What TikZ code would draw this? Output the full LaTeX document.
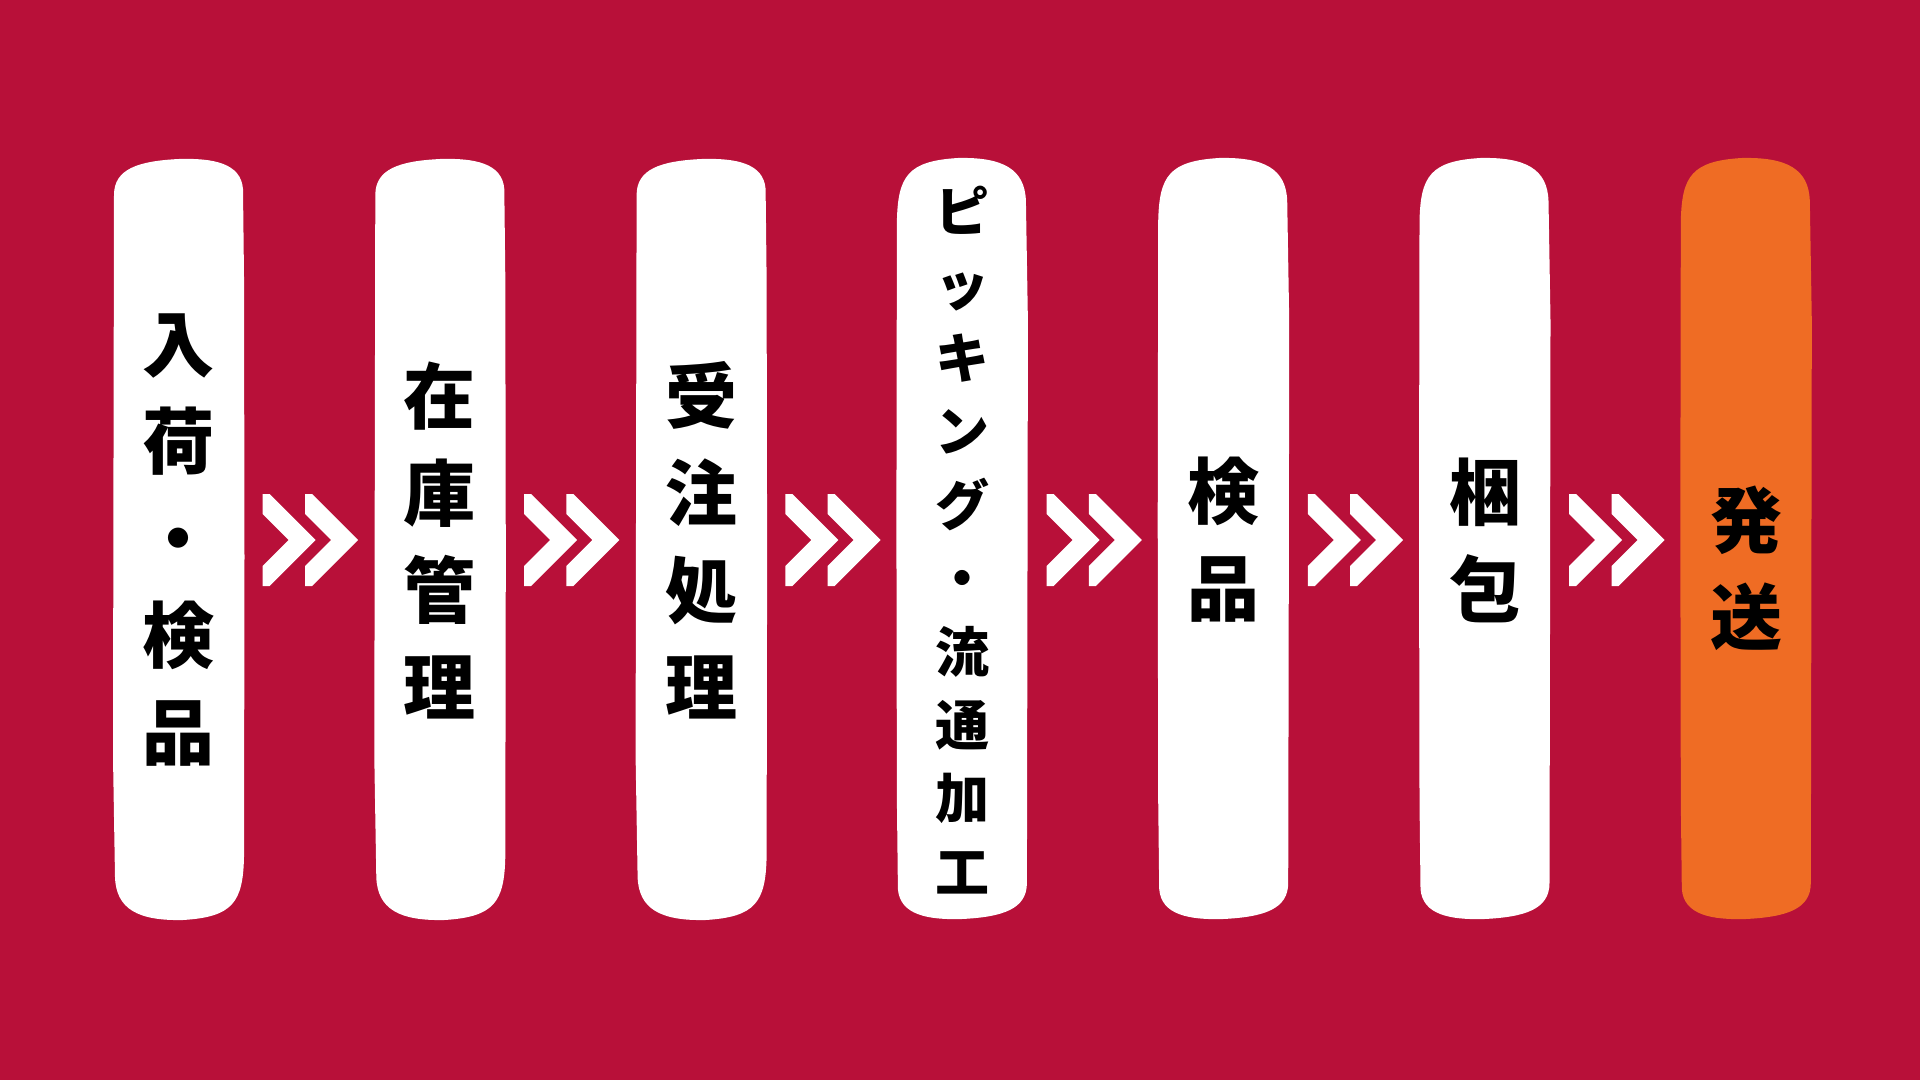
\documentclass[tikz,border=0pt]{standalone}
\usepackage{fontspec}
\newfontfamily\jpfont{Noto Sans CJK JP Black}
\definecolor{bgred}{HTML}{B81039}
\definecolor{shiporange}{HTML}{EF6C24}
\tikzset{
  pics/card/.style={code={
    \fill[#1] (1,38) .. controls (1,12) and (25,4) .. (66,2)
      .. controls (100,1) and (128,6) .. (130,32)
      -- (131,120) -- (131.5,400) -- (131,700)
      .. controls (130,745) and (120,760) .. (70,763)
      .. controls (25,764) and (3,752) .. (2,720)
      -- (0,600) -- (0.5,300) -- cycle;
  }},
  pics/chevrons/.style={code={
    \foreach \dx in {0,42.3}
      \fill[white] (\dx,0) -- (\dx+7,0) -- (\dx+53,46) -- (\dx+7,92) -- (\dx,92)
        -- (\dx,72) -- (\dx+26,46) -- (\dx,20) -- cycle;
  }},
  steptext/.style={font=\jpfont\fontsize{36}{48.5}\selectfont, align=center, text=black, inner sep=0pt},
  smalltext/.style={font=\jpfont\fontsize{27}{36.7}\selectfont, align=center, text=black, inner sep=0pt}
}
\begin{document}
\begin{tikzpicture}[x=0.5pt,y=-0.5pt]
\fill[bgred] (0,0) rectangle (1920,1080);
\useasboundingbox (0,0) rectangle (1920,1080);
% cards
\foreach \i in {0,1,2}
  \pic at (113+261.3*\i,157) {card=white};
\foreach \i in {3,4,5}
  \pic[rotate=180] at (113+261.3*\i+131,921) {card=white};
\pic[rotate=180] at (113+261.3*6+131,921) {card=shiporange};
% arrows between cards
\foreach \i in {0,...,5}
  \pic at (262.7+261.3*\i,494) {chevrons};
% labels
\node[steptext] (arrival) at (178.5,540) {入\\荷\\・\\検\\品};
\node[steptext] (stock) at (439.8,540) {在\\庫\\管\\理};
\node[steptext] (order) at (701.1,540) {受\\注\\処\\理};
\node[smalltext] (picking) at (962.4,540) {ピ\\ッ\\キ\\ン\\グ\\・\\流\\通\\加\\工};
\node[steptext] (inspect) at (1223.7,540) {検\\品};
\node[steptext] (pack) at (1485,540) {梱\\包};
\node[steptext] (ship) at (1746.3,568) {発\\送};
\end{tikzpicture}
\end{document}
